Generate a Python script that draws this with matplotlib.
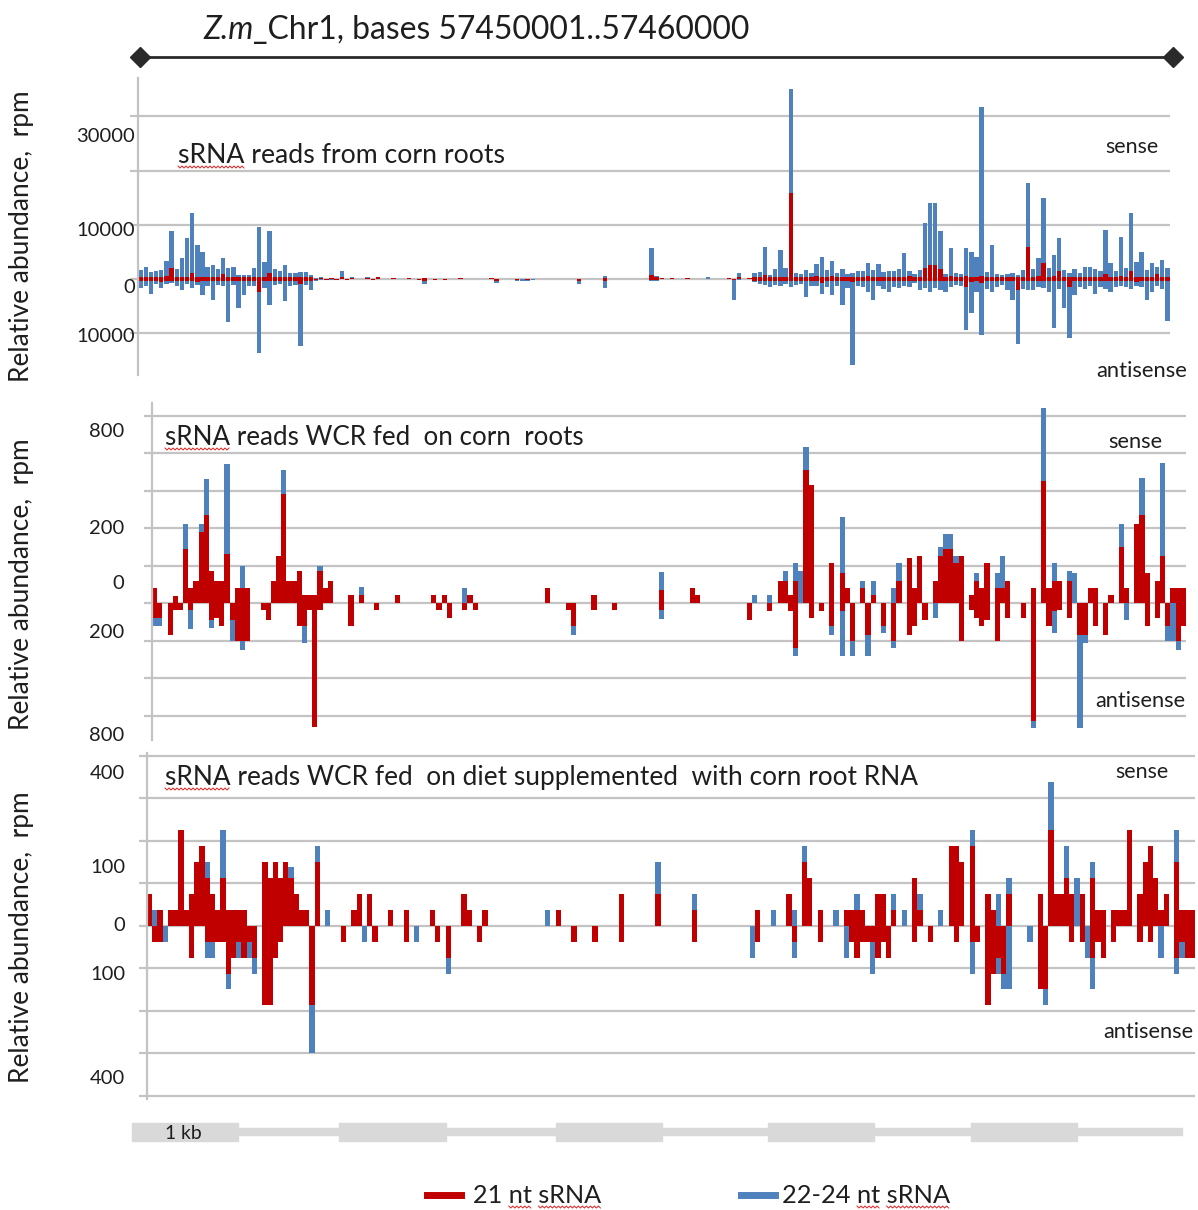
import numpy as np
import matplotlib
matplotlib.use("Agg")
import matplotlib.pyplot as plt
from matplotlib.lines import Line2D

plt.rcParams['font.family'] = ['Lato', 'DejaVu Sans']

RED = '#C00000'
BLUE = '#4F81BD'
GRID = '#C3C3C3'
TXT = '#1E1E1E'
GENE = '#D9D9D9'
SPELL = '#E02020'

BIN = 0.05   # kb per bar
NBIN = 200   # 10 kb window

# ---------- panel 1: corn roots, thousands of rpm, one row per kb ----------
p1_sense_21 = [
    [0.4, 0.4, 0.4, 0.4, 0.4, 0.5, 2.0, 0.4, 0.4, 0.4, 1.1, 0.4, 0.4, 0.4, 0.4, 0.4, 1.0, 0.4, 0.4, 0.3],
    [0.3, 0.4, 0.4, 0.4, 0.4, 1.2, 0.4, 0.4, 0.4, 0.4, 0.4, 0.4, 0.4, 0.3, 0.1, 0.2, 0, 0.2, 0, 0.4],
    [0, 0.2, 0, 0, 0.2, 0, 0.3, 0, 0, 0.2, 0, 0, 0.2, 0, 0, 0.2, 0, 0, 0.1, 0],
    [0, 0, 0.2, 0, 0, 0, 0, 0, 0.2, 0, 0, 0, 0, 0, 0, 0, 0, 0, 0, 0],
    [0, 0, 0, 0, 0, 0, 0, 0, 0, 0, 0.2, 0, 0, 0, 0, 0, 0, 0, 0, 0.8],
    [0.3, 0.2, 0, 0.2, 0, 0, 0.2, 0, 0, 0, 0, 0, 0, 0, 0.2, 0, 0.3, 0, 0.2, 0.4],
    [0.3, 0.8, 0.3, 0.4, 0.4, 0.4, 15.9, 0.4, 0.3, 0.4, 0.3, 0.5, 0.4, 0.4, 0.5, 0.3, 0.4, 0.3, 0.3, 0.4],
    [0.4, 0.5, 0.4, 0.3, 0.4, 0.4, 0.4, 0.4, 0.3, 0.6, 0.3, 0.4, 2.0, 2.6, 2.6, 1.8, 0.4, 0.5, 0.3, 0.4],
    [0.6, 0.4, 0.4, 0.5, 0.3, 0.4, 0.3, 0.3, 0.4, 0.4, 0.3, 0.4, 6.0, 0.4, 0.5, 3.0, 0.4, 0.5, 1.4, 0.4],
    [0.4, 0.4, 0.3, 0.4, 0.4, 0.4, 0.4, 1.0, 0.4, 0.4, 0.6, 0.4, 1.4, 0.4, 0.4, 0.4, 0.4, 1.0, 0.4, 0.4],
]
p1_sense_22 = [
    [1.2, 1.8, 0.9, 1.0, 1.2, 2.8, 6.8, 1.5, 3.4, 7.1, 11.1, 5.8, 4.6, 1.8, 2.2, 1.4, 2.9, 1.6, 1.8, 0.5],
    [0.5, 0.4, 1.7, 9.2, 2.8, 7.6, 1.5, 1.0, 2.2, 0.8, 0.7, 0.9, 0.9, 0.5, 0.1, 0.1, 0, 0, 0, 1.0],
    [0, 0.1, 0, 0, 0.1, 0, 0, 0, 0, 0, 0, 0, 0, 0, 0, 0, 0, 0, 0, 0],
    [0, 0, 0, 0, 0, 0, 0, 0, 0, 0, 0, 0, 0, 0, 0, 0, 0, 0, 0, 0],
    [0, 0, 0, 0, 0, 0, 0, 0, 0, 0.1, 0.3, 0, 0, 0, 0, 0, 0, 0, 0, 4.9],
    [0.3, 0, 0, 0, 0, 0, 0, 0, 0, 0, 0.3, 0, 0, 0, 0, 0, 0.8, 0, 0, 0.7],
    [1.0, 5.2, 0.5, 1.4, 5.0, 1.6, 19.1, 0.8, 0.7, 1.2, 0.8, 2.3, 3.7, 1.2, 2.8, 0.8, 1.4, 0.7, 0.8, 1.0],
    [1.0, 2.5, 1.2, 2.5, 0.9, 1.0, 1.0, 1.5, 4.6, 0.8, 0.7, 1.2, 8.3, 11.4, 11.4, 7.0, 0.6, 5.2, 0.8, 0.5],
    [5.2, 4.6, 3.7, 31.2, 1.0, 5.8, 0.7, 0.5, 0.6, 0.8, 0.5, 1.2, 11.7, 1.5, 3.4, 12.0, 1.7, 4.0, 6.2, 1.2],
    [0.8, 1.5, 0.8, 1.8, 1.8, 1.5, 1.0, 8.0, 2.5, 1.0, 7.1, 1.7, 10.8, 2.8, 4.6, 1.2, 2.5, 1.2, 3.1, 1.7],
]
p1_anti_21 = [
    [0.3, 0.3, 0.4, 0.3, 0.5, 0.3, 0.3, 0.4, 0.3, 0.3, 0.3, 0.5, 0.3, 0.4, 0.3, 0.3, 0.3, 0.4, 0.3, 0.3],
    [0.3, 0.3, 0.3, 2.3, 0.3, 0.4, 0.3, 0.3, 0.3, 0.3, 0.3, 0.9, 0.3, 0.3, 0.1, 0, 0.1, 0, 0.1, 0],
    [0.1, 0, 0, 0, 0, 0.1, 0, 0, 0, 0, 0, 0, 0, 0, 0.1, 0.4, 0, 0.1, 0, 0.1],
    [0, 0, 0, 0, 0, 0, 0, 0, 0, 0.3, 0, 0, 0, 0.1, 0, 0.1, 0, 0, 0, 0],
    [0, 0, 0, 0, 0, 0.3, 0, 0, 0, 0, 0.4, 0, 0, 0, 0, 0, 0, 0, 0, 0.2],
    [0.2, 0, 0, 0, 0, 0, 0, 0, 0, 0, 0, 0, 0, 0, 0, 0.2, 0, 0, 0, 0.3],
    [0.3, 0.3, 0.4, 0.3, 0.3, 0.3, 0.3, 0.3, 0.3, 0.4, 0.3, 0.3, 0.8, 0.3, 0.3, 0.3, 0.4, 0.3, 0.5, 0.3],
    [0.3, 0.4, 0.3, 0.3, 0.3, 0.3, 0.4, 0.3, 0.3, 0.3, 0.3, 0.3, 0.3, 0.3, 0.4, 0.3, 0.3, 0.3, 0.3, 0.3],
    [1.4, 0.6, 0.3, 0.8, 0.3, 0.3, 0.3, 0.3, 0.3, 0.4, 2.0, 0.3, 0.3, 0.3, 0.3, 0.3, 0.4, 0.3, 0.3, 0.3],
    [1.4, 0.3, 0.3, 0.3, 0.3, 0.4, 0.3, 0.3, 0.3, 0.3, 0.3, 0.3, 0.3, 0.5, 0.3, 0.3, 0.3, 0.3, 0.3, 0.3],
]
p1_anti_22 = [
    [1.4, 0.9, 2.3, 0.7, 1.1, 0.6, 0.4, 0.8, 1.7, 0.6, 1.4, 0.6, 2.6, 0.9, 3.5, 0.8, 1.0, 7.5, 0.8, 5.1],
    [2.6, 0.9, 1.0, 11.4, 1.4, 4.4, 0.8, 0.6, 3.8, 0.9, 0.8, 11.5, 0.8, 1.7, 0.2, 0.1, 0, 0.1, 0, 0],
    [0, 0, 0, 0, 0, 0, 0, 0, 0, 0, 0, 0, 0, 0, 0.1, 0.6, 0, 0, 0, 0],
    [0, 0, 0, 0, 0, 0, 0, 0, 0, 0.5, 0, 0, 0, 0.3, 0.3, 0.3, 0.2, 0, 0, 0],
    [0, 0, 0, 0, 0, 0.7, 0, 0, 0, 0, 1.3, 0, 0, 0, 0, 0, 0, 0, 0, 0.2],
    [0.2, 0, 0, 0, 0, 0, 0, 0, 0, 0, 0, 0, 0, 0, 0, 3.6, 0.2, 0, 0, 0.3],
    [0.6, 0.8, 1.1, 0.8, 1.0, 0.6, 1.2, 0.8, 0.7, 2.9, 1.0, 1.0, 2.0, 1.2, 2.6, 1.0, 4.4, 1.4, 15.4, 1.0],
    [1.1, 2.0, 3.5, 1.0, 1.5, 2.0, 1.0, 1.4, 1.0, 1.2, 0.4, 1.7, 1.4, 2.0, 1.2, 1.7, 2.0, 1.2, 0.8, 1.0],
    [8.0, 5.6, 2.0, 9.5, 1.5, 2.0, 1.2, 0.8, 1.7, 3.5, 10.0, 1.5, 1.7, 1.7, 1.2, 1.4, 2.0, 8.8, 1.5, 5.1],
    [9.5, 2.6, 1.2, 1.5, 1.0, 2.3, 1.2, 1.5, 2.0, 1.2, 1.0, 1.2, 1.5, 0.8, 1.2, 3.5, 2.0, 1.0, 1.5, 7.5],
]

# ---------- panel 2: WCR fed on corn roots, rpm, (kb, value) ----------
p2_sense_21 = [(0.00, 40), (0.20, 20), (0.30, 145), (0.35, 40), (0.40, 60), (0.45, 190), (0.50, 235),
               (0.55, 85), (0.60, 60), (0.65, 60), (0.70, 130), (0.80, 40), (0.85, 40), (0.90, 40),
               (1.15, 60), (1.20, 125), (1.25, 290), (1.30, 60), (1.35, 60), (1.40, 85), (1.45, 22),
               (1.50, 22), (1.55, 22), (1.60, 85), (1.65, 40), (1.70, 60), (1.90, 22), (2.00, 22),
               (2.35, 22), (2.70, 22), (2.80, 22), (3.05, 22), (3.80, 40), (4.25, 22), (4.90, 35),
               (5.20, 40), (5.25, 22), (6.05, 60), (6.10, 60), (6.15, 22), (6.20, 60), (6.30, 355),
               (6.35, 315), (6.55, 107), (6.65, 80), (6.70, 40), (6.85, 40), (6.95, 22), (7.20, 60),
               (7.30, 120), (7.35, 40), (7.40, 125), (7.55, 60), (7.60, 125), (7.65, 145), (7.70, 145),
               (7.75, 107), (7.80, 125), (7.90, 22), (7.95, 60), (8.00, 40), (8.05, 107), (8.15, 40),
               (8.20, 40), (8.25, 60), (8.50, 40), (8.60, 325), (8.65, 40), (8.70, 60), (8.75, 60),
               (8.85, 60), (9.05, 40), (9.10, 40), (9.25, 22), (9.35, 150), (9.40, 40), (9.50, 210),
               (9.55, 235), (9.60, 80), (9.70, 60), (9.75, 125), (9.85, 40), (9.90, 40), (9.95, 40)]
p2_sense_22 = [(0.30, 65), (0.45, 20), (0.50, 95), (0.70, 240), (0.85, 60), (1.25, 65), (1.60, 15),
               (2.00, 20), (3.00, 40), (4.90, 48), (5.80, 22), (5.95, 22), (6.10, 25), (6.20, 47),
               (6.25, 85), (6.30, 62), (6.65, 150), (6.85, 20), (6.95, 38), (7.15, 40), (7.20, 47),
               (7.60, 25), (7.65, 40), (7.70, 40), (7.75, 18), (7.95, 20), (8.15, 40), (8.20, 85),
               (8.60, 195), (8.70, 47), (8.85, 25), (8.90, 80), (9.35, 60), (9.55, 98), (9.75, 250)]
p2_anti_21 = [(0.00, 40), (0.05, 40), (0.15, 85), (0.20, 18), (0.25, 18), (0.35, 18), (0.55, 45),
              (0.60, 40), (0.65, 60), (0.75, 45), (0.80, 100), (0.85, 100), (0.90, 100), (1.05, 18),
              (1.10, 45), (1.40, 60), (1.45, 60), (1.50, 18), (1.55, 330), (1.60, 18), (1.90, 60),
              (2.15, 18), (2.75, 18), (2.85, 40), (3.00, 18), (3.10, 18), (4.00, 18), (4.05, 60),
              (4.25, 18), (4.45, 18), (4.90, 18), (5.75, 45), (5.95, 20), (6.15, 20), (6.20, 120),
              (6.35, 40), (6.45, 20), (6.55, 60), (6.65, 20), (6.75, 100), (6.90, 85), (7.05, 60),
              (7.15, 100), (7.30, 85), (7.35, 60), (7.45, 45), (7.80, 100), (7.90, 18), (7.95, 40),
              (8.00, 60), (8.05, 45), (8.15, 100), (8.25, 40), (8.40, 40), (8.50, 315), (8.65, 60),
              (8.70, 20), (8.75, 18), (8.85, 40), (8.95, 85), (9.00, 85), (9.10, 60), (9.20, 85),
              (9.60, 60), (9.70, 40), (9.80, 60), (9.90, 100), (9.95, 60)]
p2_anti_22 = [(0.00, 20), (0.05, 20), (0.35, 50), (0.55, 20), (0.75, 55), (0.85, 25), (1.45, 45),
              (4.05, 25), (4.90, 24), (6.20, 22), (6.55, 25), (6.65, 122), (6.75, 42), (6.90, 57),
              (7.05, 20), (7.15, 20), (7.55, 40), (8.50, 18), (8.70, 60), (8.95, 248), (9.00, 20),
              (9.40, 45), (9.80, 40), (9.85, 100), (9.90, 25)]

# ---------- panel 3: WCR fed on diet + corn root RNA, rpm, (kb, value) ----------
p3_sense_21 = [(0.00, 30), (0.10, 15), (0.20, 15), (0.25, 15), (0.30, 90), (0.35, 15), (0.40, 30),
               (0.45, 60), (0.50, 75), (0.55, 45), (0.60, 30), (0.65, 15), (0.70, 45), (0.75, 15),
               (0.80, 15), (0.85, 15), (0.90, 15), (1.10, 60), (1.15, 45), (1.20, 60), (1.25, 45),
               (1.30, 60), (1.35, 45), (1.40, 30), (1.45, 15), (1.50, 15), (1.60, 60), (1.95, 15),
               (2.00, 30), (2.10, 30), (2.30, 15), (2.45, 15), (2.70, 15), (3.00, 30), (3.05, 15),
               (3.20, 15), (3.90, 15), (4.50, 30), (4.85, 30), (5.20, 15), (5.80, 15), (6.10, 30),
               (6.25, 60), (6.30, 45), (6.40, 15), (6.65, 15), (6.70, 15), (6.75, 15), (6.80, 15),
               (6.95, 30), (7.00, 30), (7.10, 15), (7.30, 45), (7.35, 15), (7.65, 75), (7.70, 75),
               (7.75, 60), (7.85, 75), (8.00, 30), (8.05, 15), (8.20, 30), (8.50, 30), (8.60, 90),
               (8.65, 30), (8.70, 30), (8.75, 45), (8.80, 30), (8.90, 30), (9.00, 45), (9.05, 15),
               (9.10, 15), (9.20, 15), (9.25, 15), (9.30, 15), (9.35, 90), (9.45, 30), (9.50, 60),
               (9.55, 75), (9.60, 45), (9.65, 15), (9.70, 30), (9.80, 60), (9.85, 15), (9.90, 15),
               (9.95, 15)]
p3_sense_22 = [(0.05, 15), (0.55, 15), (0.70, 45), (1.35, 10), (1.60, 15), (1.70, 15), (3.80, 15),
               (4.85, 30), (5.20, 15), (5.95, 15), (6.15, 15), (6.25, 15), (6.55, 15), (6.75, 15),
               (7.10, 15), (7.20, 15), (7.35, 15), (7.55, 15), (7.85, 15), (8.10, 30), (8.20, 15),
               (8.60, 45), (8.75, 30), (8.85, 45), (9.00, 15), (9.80, 30)]
p3_anti_21 = [(0.05, 15), (0.10, 15), (0.40, 30), (0.55, 15), (0.60, 15), (0.65, 15), (0.70, 15),
              (0.75, 45), (0.80, 30), (0.85, 15), (0.90, 30), (0.95, 15), (1.00, 30), (1.10, 75),
              (1.15, 75), (1.20, 30), (1.25, 15), (1.55, 75), (1.85, 15), (2.15, 15), (2.45, 15),
              (2.75, 15), (2.85, 30), (3.15, 15), (4.05, 15), (4.25, 15), (4.50, 15), (5.20, 15),
              (5.80, 15), (6.15, 15), (6.40, 15), (6.70, 15), (6.75, 30), (6.80, 15), (6.85, 15),
              (6.90, 15), (6.95, 30), (7.00, 15), (7.05, 30), (7.30, 15), (7.45, 15), (7.70, 15),
              (7.85, 15), (7.90, 15), (8.00, 75), (8.05, 45), (8.10, 30), (8.15, 45), (8.50, 60),
              (8.55, 60), (8.80, 15), (8.90, 15), (9.00, 30), (9.05, 15), (9.10, 30), (9.20, 15),
              (9.45, 15), (9.55, 15), (9.80, 30), (9.85, 15), (9.90, 30), (9.95, 30)]
p3_anti_22 = [(0.15, 15), (0.55, 15), (0.60, 15), (0.75, 15), (0.85, 15), (0.95, 15), (1.00, 15),
              (1.55, 45), (2.05, 15), (2.55, 15), (2.85, 15), (5.75, 30), (6.15, 15), (6.65, 30),
              (6.90, 30), (7.85, 30), (8.10, 15), (8.15, 15), (8.20, 60), (8.40, 15), (8.55, 15),
              (8.95, 30), (9.00, 30), (9.65, 30), (9.80, 15), (9.85, 15)]

# axis labels as printed on the figure (value position, label text)
p1_ticks = [(26.6, '30000'), (9.3, '10000'), (-1.2, '0'), (-10.3, '10000')]
p2_ticks = [(462, '800'), (203, '200'), (57, '0'), (-74, '200'), (-350, '800')]
p3_ticks = [(144.7, '400'), (56.3, '100'), (1.6, '0'), (-44.5, '100'), (-142.4, '400')]

# gene model under the tracks (kb)
gene_blocks = [-0.06, 1.95, 4.05, 6.10, 8.07]
gene_block_len = 1.03
gene_end = 10.12

W, H = 1198, 1210
fig = plt.figure(figsize=(W / 100, H / 100), dpi=100)
rend = fig.canvas.get_renderer()


def px_axes(left, top, right, bottom):
    return fig.add_axes([left / W, 1 - bottom / H, (right - left) / W, (bottom - top) / H])


def ftext(x, y, s, width=None, vertical=False, **kw):
    kw.setdefault('color', TXT)
    kw.setdefault('fontsize', 14)
    t = fig.text(x / W, 1 - y / H, s, **kw)
    if width:
        bb = t.get_window_extent(rend)
        cur = bb.height if vertical else bb.width
        t.set_fontsize(t.get_fontsize() * width / cur)
    return t


def text_w(s, size):
    tmp = fig.text(0, 0, s, fontsize=size)
    w = tmp.get_window_extent(rend).width
    tmp.remove()
    return w


def squiggle(t, word_start, word_end):
    # red spell-check underline below part of a text
    s = t.get_text()
    size = t.get_fontsize()
    x0 = t.get_window_extent(rend).x0
    a = x0 + (text_w(s[:word_start], size) if word_start else 0)
    b = x0 + text_w(s[:word_end], size)
    yb = t.get_position()[1] * H - 4
    xs = np.arange(a, b, 2.0)
    ys = yb + np.where(np.arange(len(xs)) % 2 == 0, 1.0, -1.0)
    fig.add_artist(Line2D(xs / W, ys / H, color=SPELL, lw=0.7))


def binned(pairs):
    v = np.zeros(NBIN)
    for kb, val in pairs:
        v[int(round(kb / BIN))] = val
    return v


def panel(box, ylim, grid, ticks, pad):
    ax = px_axes(*box)
    ax.set_xlim(0, 10)
    ax.set_ylim(*ylim)
    ax.patch.set_visible(False)
    for g in grid:
        ax.plot([-0.008, 1], [g, g], transform=ax.get_yaxis_transform(), color=GRID,
                lw=1.6, zorder=0, clip_on=False, solid_capstyle='butt')
    for s in ['top', 'right', 'bottom']:
        ax.spines[s].set_visible(False)
    ax.spines['left'].set_color(GRID)
    ax.spines['left'].set_linewidth(1.6)
    ax.set_xticks([])
    ax.set_yticks([t[0] for t in ticks])
    ax.set_yticklabels([t[1] for t in ticks])
    ax.tick_params(axis='y', length=0, pad=pad, labelsize=14.5, labelcolor=TXT)
    return ax


def stack(ax, s21, s22, a21, a22, frac=1.0):
    x = np.arange(NBIN) * BIN + BIN / 2
    w = BIN * frac
    ax.bar(x, s21, width=w, color=RED, lw=0, zorder=2)
    ax.bar(x, s22, bottom=s21, width=w, color=BLUE, lw=0, zorder=2)
    ax.bar(x, -a21, width=w, color=RED, lw=0, zorder=2)
    ax.bar(x, -a22, bottom=-a21, width=w, color=BLUE, lw=0, zorder=2)


# panel 1
ax1 = panel((138, 78, 1170, 375), (-17.7, 37.1), [-10, 0, 10, 20, 30], p1_ticks, 2.4)
stack(ax1, np.ravel(p1_sense_21), np.ravel(p1_sense_22), np.ravel(p1_anti_21),
      np.ravel(p1_anti_22), frac=0.85)

# panel 2
ax2 = panel((152, 403, 1186, 740), (-365, 534), range(-300, 501, 100), p2_ticks, 20)
stack(ax2, binned(p2_sense_21), binned(p2_sense_22), binned(p2_anti_21), binned(p2_anti_22))

# panel 3
ax3 = panel((147, 753, 1195, 1099), (-163.1, 162.5), range(-160, 161, 40), p3_ticks, 15.5)
stack(ax3, binned(p3_sense_21), binned(p3_sense_22), binned(p3_anti_21), binned(p3_anti_22))

# panel captions
c1 = ftext(178, 163, 'sRNA reads from corn roots', width=327, va='baseline')
c2 = ftext(165, 445, 'sRNA reads WCR fed  on corn  roots', width=420, va='baseline')
c3 = ftext(165, 785, 'sRNA reads WCR fed  on diet supplemented  with corn root RNA', width=751, va='baseline')
for c in (c1, c2, c3):
    squiggle(c, 0, 4)

for x, y, s, w in [(1105, 153, 'sense', 53), (1096, 377, 'antisense', 91),
                   (1108, 448, 'sense', 54), (1095, 707, 'antisense', 90),
                   (1115, 778, 'sense', 53), (1103, 1038, 'antisense', 90)]:
    ftext(x, y, s, width=w, va='baseline')

for yc in [236, 584, 937]:
    ftext(22, yc, 'Relative abundance,  rpm', width=292, vertical=True,
          rotation=90, ha='center', va='center')

# title with italic species name
t_rest = ftext(257, 39, '_Chr1, bases 57450001..57460000', width=498, va='baseline')
t_it = ftext(203, 39, 'Z.m', va='baseline', style='italic', fontsize=t_rest.get_fontsize())
t_rest.set_x(t_it.get_window_extent(rend).x1 / W)

# ruler line with diamond ends
axr = px_axes(138, 47, 1170, 67)
axr.set_xlim(0, 10)
axr.set_ylim(-1, 1)
axr.axis('off')
axr.plot([0.02, 10.03], [0, 0], color='#2A2A2A', lw=2, marker='D', ms=10, clip_on=False)

# gene model / scale bar
axg = px_axes(138, 1118, 1170, 1146)
axg.set_xlim(0, 10)
axg.set_ylim(1146, 1118)
axg.axis('off')
axg.broken_barh([(gene_blocks[0] + gene_block_len, gene_end - gene_blocks[0] - gene_block_len)],
                (1128, 7), color=GENE, clip_on=False)
axg.broken_barh([(b, gene_block_len) for b in gene_blocks], (1123, 18), color=GENE, clip_on=False)
ftext(165, 1139, '1 kb', width=37, va='baseline')

# legend
fig.add_artist(Line2D([427 / W, 461 / W], [1 - 1195 / H] * 2, color=RED, lw=5))
l1 = ftext(473, 1203, '21 nt sRNA', width=128, va='baseline')
fig.add_artist(Line2D([741 / W, 775 / W], [1 - 1195 / H] * 2, color=BLUE, lw=5))
l2 = ftext(782, 1203, '22-24 nt sRNA', width=168, va='baseline')
squiggle(l1, 3, 5)
squiggle(l1, 6, 10)
squiggle(l2, 6, 8)
squiggle(l2, 9, 13)

fig.savefig('out.png', dpi=100, facecolor='white')
